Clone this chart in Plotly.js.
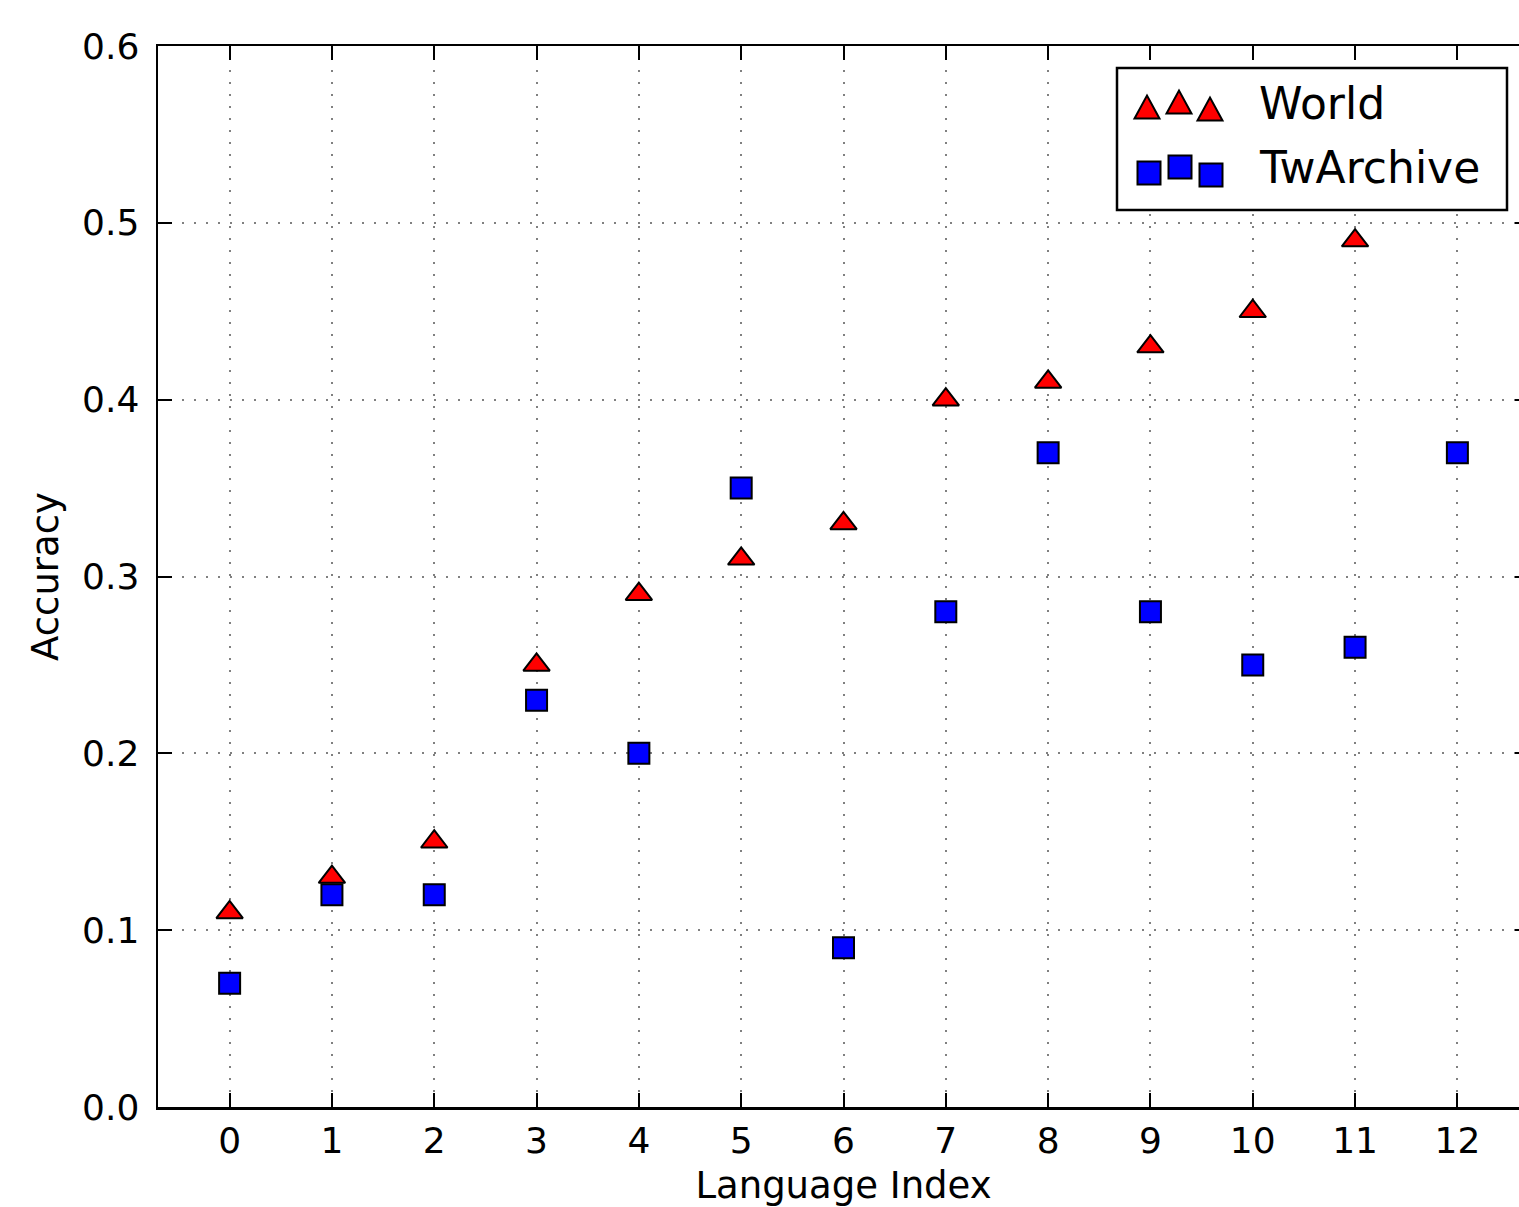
<!DOCTYPE html>
<html>
<head>
<meta charset="utf-8">
<script src="https://cdn.plot.ly/plotly-3.0.1.min.js"></script>
<style>
  html, body { margin: 0; padding: 0; overflow: hidden; background: #fff; }
  #chart { width: 1529px; height: 1207px; }
</style>
</head>
<body>
<div id="chart"></div>
<script>
// ---- Data ----
const worldIndex = [0, 1, 2, 3, 4, 5, 6, 7, 8, 9, 10, 11];
const worldAccuracy = [0.11, 0.13, 0.15, 0.25, 0.29, 0.31, 0.33, 0.40, 0.41, 0.43, 0.45, 0.49];
const twIndex = [0, 1, 2, 3, 4, 5, 6, 7, 8, 9, 10, 11, 12];
const twAccuracy = [0.07, 0.12, 0.12, 0.23, 0.20, 0.35, 0.09, 0.28, 0.37, 0.28, 0.25, 0.26, 0.37];
const xTicks = [0, 1, 2, 3, 4, 5, 6, 7, 8, 9, 10, 11, 12];
const yTicks = [0.0, 0.1, 0.2, 0.3, 0.4, 0.5, 0.6];
const yTickText = ['0.0', '0.1', '0.2', '0.3', '0.4', '0.5', '0.6'];
const seriesNames = ['World', 'TwArchive'];

// ---- Layout geometry (figure is slightly wider than the window; its right edge is cropped like the reference) ----
const W = 1529, H = 1207;
const M = { l: 158, r: 0, t: 46, b: 100 };
const PW = W - M.l - M.r, PH = H - M.t - M.b;
const px = x => (x - M.l) / PW;          // pixel x -> paper x
const py = y => (H - M.b - y) / PH;      // pixel y -> paper y
const FONT = 'DejaVu Sans, Verdana, sans-serif';

const traces = [
  {
    x: worldIndex, y: worldAccuracy, name: seriesNames[0],
    type: 'scatter', mode: 'markers', showlegend: false, cliponaxis: false,
    marker: { symbol: 'triangle-up', size: 23, color: '#ff0000', line: { color: '#000', width: 2 } }
  },
  {
    x: twIndex, y: twAccuracy, name: seriesNames[1],
    type: 'scatter', mode: 'markers', showlegend: false, cliponaxis: false,
    marker: { symbol: 'square', size: 21, color: '#0000ff', line: { color: '#000', width: 2 } }
  }
];

// ---- Custom legend (matplotlib style, three glyphs per entry) ----
const shapes = [];
shapes.push({ type: 'rect', xref: 'paper', yref: 'paper', layer: 'above',
  x0: px(1117), x1: px(1507), y0: py(210), y1: py(68),
  fillcolor: '#fff', line: { color: '#000', width: 2.5 } });
function tri(cx, cy) {
  const hw = 12.5, hh = 11.5;
  return { type: 'path', xref: 'paper', yref: 'paper', layer: 'above',
    path: `M ${px(cx - hw)},${py(cy + hh)} L ${px(cx + hw)},${py(cy + hh)} L ${px(cx)},${py(cy - hh)} Z`,
    fillcolor: '#ff0000', line: { color: '#000', width: 2 } };
}
function sq(cx, cy) {
  const h = 11.5;
  return { type: 'rect', xref: 'paper', yref: 'paper', layer: 'above',
    x0: px(cx - h), x1: px(cx + h), y0: py(cy + h), y1: py(cy - h),
    fillcolor: '#0000ff', line: { color: '#000', width: 2 } };
}
[[1147, 107], [1179, 102], [1210, 109]].forEach(p => shapes.push(tri(p[0], p[1])));
[[1149, 173], [1180, 167], [1211, 175]].forEach(p => shapes.push(sq(p[0], p[1])));

const annotations = [
  { xref: 'paper', yref: 'paper', x: px(1257), y: py(103), xanchor: 'left', yanchor: 'middle',
    text: seriesNames[0], showarrow: false, font: { family: FONT, size: 44, color: '#000' } },
  { xref: 'paper', yref: 'paper', x: px(1257), y: py(168), xanchor: 'left', yanchor: 'middle',
    text: seriesNames[1], showarrow: false, font: { family: FONT, size: 44, color: '#000' } }
];

const gridStyle = { showgrid: true, gridcolor: '#808080', gridwidth: 2, griddash: '2px,10px' };

const layout = {
  width: W, height: H,
  margin: M,
  paper_bgcolor: '#fff', plot_bgcolor: '#fff',
  font: { family: FONT, color: '#000' },
  showlegend: false,
  xaxis: Object.assign({
    range: [-0.7, 12.7], tickmode: 'array', tickvals: xTicks,
    ticks: 'inside', ticklen: 14, tickwidth: 2, tickcolor: '#000',
    showline: true, linecolor: '#000', linewidth: 2.5, mirror: 'ticks',
    zeroline: false, tickfont: { family: FONT, size: 36, color: '#000' },
    ticklabelstandoff: 0,
    title: { text: 'Language Index', font: { family: FONT, size: 37, color: '#000' }, standoff: 31 }
  }, gridStyle),
  yaxis: Object.assign({
    range: [0, 0.6], tickmode: 'array', tickvals: yTicks, ticktext: yTickText,
    ticks: 'inside', ticklen: 14, tickwidth: 2, tickcolor: '#000',
    showline: true, linecolor: '#000', linewidth: 2.5, mirror: 'ticks',
    zeroline: false, tickfont: { family: FONT, size: 36, color: '#000' },
    ticklabelstandoff: 9,
    title: { text: 'Accuracy', font: { family: FONT, size: 37, color: '#000' }, standoff: 12 }
  }, gridStyle),
  shapes: shapes,
  annotations: annotations
};

Plotly.newPlot('chart', traces, layout, { displayModeBar: false, staticPlot: true });
</script>
</body>
</html>
